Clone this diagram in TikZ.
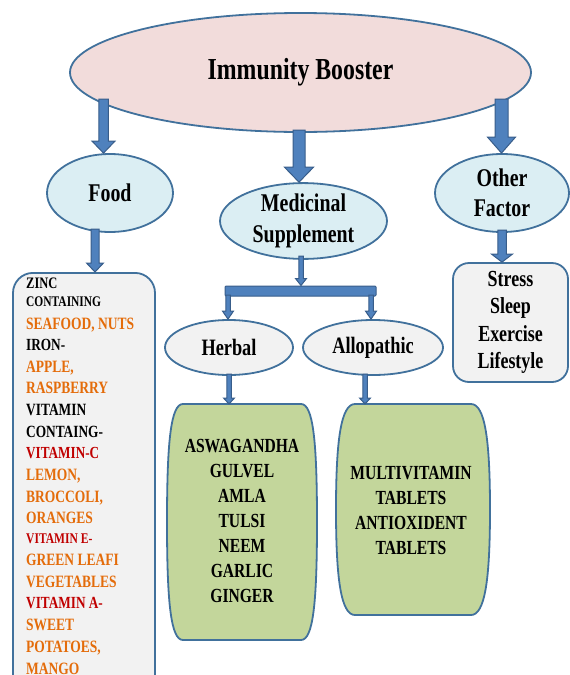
\documentclass[tikz,border=0pt]{standalone}
\usepackage{fontspec}
\setmainfont{Liberation Serif}
\usetikzlibrary{shapes.geometric,calc}
\definecolor{pinkfill}{HTML}{F2DCDB}
\definecolor{bluefill}{HTML}{DBEEF3}
\definecolor{grayfill}{HTML}{F2F2F2}
\definecolor{greenfill}{HTML}{C3D69B}
\definecolor{edge}{HTML}{41719C}
\definecolor{arrfill}{HTML}{4F81BD}
\definecolor{arredge}{HTML}{385D8A}
\definecolor{orng}{HTML}{E46C0A}
\definecolor{dred}{HTML}{C00000}
\newcommand{\nw}[1]{\scalebox{0.78}[1]{#1}}
\tikzset{
  ell/.style={ellipse, draw=edge, line width=1.8pt, inner sep=0pt, align=center,
    font=\bfseries\fontsize{25.5}{30.5}\selectfont},
  boxsty/.style={rectangle, draw=edge, line width=1.8pt, fill=grayfill, inner sep=0pt},
  gbox/.style={draw=edge, line width=1.8pt, fill=greenfill},
  gtext/.style={align=center, inner sep=0pt, font=\bfseries\fontsize{20}{25}\selectfont},
  arrowsty/.style={fill=arrfill, draw=arredge, line width=1pt, line join=miter},
}
\newcommand{\blockarr}[5]{%
  \filldraw[arrowsty] let \p1=(#1), \p2=(#2) in
  (\x1-0.5*#3pt,\y1) -- (\x1+0.5*#3pt,\y1) -- (\x1+0.5*#3pt,\y2+#5pt)
  -- (\x1+0.5*#4pt,\y2+#5pt) -- (\x1,\y2) -- (\x1-0.5*#4pt,\y2+#5pt)
  -- (\x1-0.5*#3pt,\y2+#5pt) -- cycle;}
\begin{document}
\begin{tikzpicture}[x=1pt,y=-1pt]
\path[use as bounding box] (0,0) rectangle (570,675);
\clip (0,0) rectangle (570,675);

% main ellipses
\node[ell, fill=pinkfill, minimum width=461pt, minimum height=119pt] (top) at (300.5,72.5)
  {\raisebox{-4.5pt}{\fontsize{30.5}{36}\selectfont\nw{Immunity Booster}}};
\node[ell, fill=bluefill, minimum width=126pt, minimum height=78pt] (food) at (110,193) {\nw{Food}};
\node[ell, fill=bluefill, minimum width=167pt, minimum height=72pt] (med) at (303.5,221) {\nw{Medicinal}\\\nw{Supplement}};
\node[ell, fill=bluefill, minimum width=134pt, minimum height=78pt] (oth) at (502,193) {\nw{Other}\\\nw{Factor}};

% food box
\node[boxsty, rounded corners=20pt, minimum width=142pt, minimum height=430pt, anchor=north] (foodbox) at (84,272) {};
\foreach \yy/\col/\fs/\txt [count=\i] in {
  288/black/16/ZINC,
  306/black/14.7/CONTAINING,
  329/orng/17.3/{SEAFOOD, NUTS},
  350/black/17/IRON-,
  372/orng/17.3/{APPLE,},
  393/orng/17.3/RASPBERRY,
  415/black/17.2/VITAMIN,
  437/black/17.1/CONTAING-,
  458/dred/16.9/VITAMIN-C,
  480/orng/17.3/{LEMON,},
  502/orng/17.3/{BROCCOLI,},
  523/orng/17.3/ORANGES,
  543/dred/14.8/{VITAMIN E-},
  565/orng/17.3/{GREEN LEAFI},
  587/orng/17.3/VEGETABLES,
  608/dred/17/{VITAMIN A-},
  630/orng/17.3/SWEET,
  652/orng/17.3/{POTATOES,},
  674/orng/17.3/MANGO}
  \node[anchor=base west, inner sep=0pt, text=\col, font=\bfseries\fontsize{\fs}{\fs}\selectfont] (f\i) at (26,\yy) {\nw{\txt}};

% other factor box
\node[boxsty, rounded corners=16pt, minimum width=115pt, minimum height=119pt, align=center,
  font=\bfseries\fontsize{23}{27.3}\selectfont] (stress) at (510.5,322.5)
  {\nw{Stress}\\\nw{Sleep}\\\nw{Exercise}\\\nw{Lifestyle}};

% branch bar
\node[rectangle, fill=arrfill, draw=arredge, line width=1pt, minimum width=151pt, minimum height=10pt,
  inner sep=0pt, rounded corners=1pt] (bar) at (300.5,291) {};

% herbal / allopathic
\node[ell, fill=grayfill, minimum width=128pt, minimum height=55pt,
  font=\bfseries\fontsize{23.5}{28}\selectfont] (herb) at (229,347.5) {\nw{Herbal}};
\node[ell, fill=grayfill, minimum width=140pt, minimum height=55pt,
  font=\bfseries\fontsize{23.5}{28}\selectfont] (allo) at (373,347.5) {\nw{Allopathic}};

% green boxes
\draw[gbox] (183,404) -- (301,404) .. controls (313,404) and (317,440) .. (317,522)
  .. controls (317,604) and (313,640) .. (301,640) -- (183,640)
  .. controls (171,640) and (167,604) .. (167,522)
  .. controls (167,440) and (171,404) .. (183,404) -- cycle;
\draw[gbox] (355,404) -- (471,404) .. controls (485,404) and (490,440) .. (490,509.5)
  .. controls (490,579) and (485,615) .. (471,615) -- (355,615)
  .. controls (341,615) and (336,579) .. (336,509.5)
  .. controls (336,440) and (341,404) .. (355,404) -- cycle;
\coordinate (hbtop) at (229,404);
\coordinate (abtop) at (365,404);
\node[gtext] (herbtxt) at (242,521.4)
  {\nw{ASWAGANDHA}\\\nw{GULVEL}\\\nw{AMLA}\\\nw{TULSI}\\\nw{NEEM}\\\nw{GARLIC}\\\nw{GINGER}};
\node[gtext] (allotxt) at (411,510)
  {\nw{MULTIVITAMIN}\\\nw{TABLETS}\\\nw{ANTIOXIDENT}\\\nw{TABLETS}};

% arrows
\coordinate (s1) at (103.5,99);  \blockarr{s1}{s1 |- food.north}{9.5}{23}{12}
\coordinate (s2) at (299,130);   \blockarr{s2}{s2 |- med.north}{12}{29}{15}
\coordinate (s3) at (501.5,99);  \blockarr{s3}{s3 |- oth.north}{13}{28}{16}
\coordinate (s4) at (95,229);    \blockarr{s4}{s4 |- foodbox.north}{8}{17}{9}
\coordinate (s5) at (502,230);   \blockarr{s5}{s5 |- stress.north}{8.5}{21}{8}
\coordinate (s6) at (301,256);   \blockarr{s6}{s6 |- bar.north}{4.5}{11}{7}
\coordinate (s7) at (228,295);   \blockarr{s7}{s7 |- herb.north}{4.5}{11}{8}
\coordinate (s8) at (371,295);   \blockarr{s8}{s8 |- allo.north}{4.5}{11}{8}
\coordinate (s9) at (229,374);   \blockarr{s9}{hbtop}{4.5}{11}{6}
\coordinate (s10) at (365,374);  \blockarr{s10}{abtop}{4.5}{11}{6}
\end{tikzpicture}
\end{document}
